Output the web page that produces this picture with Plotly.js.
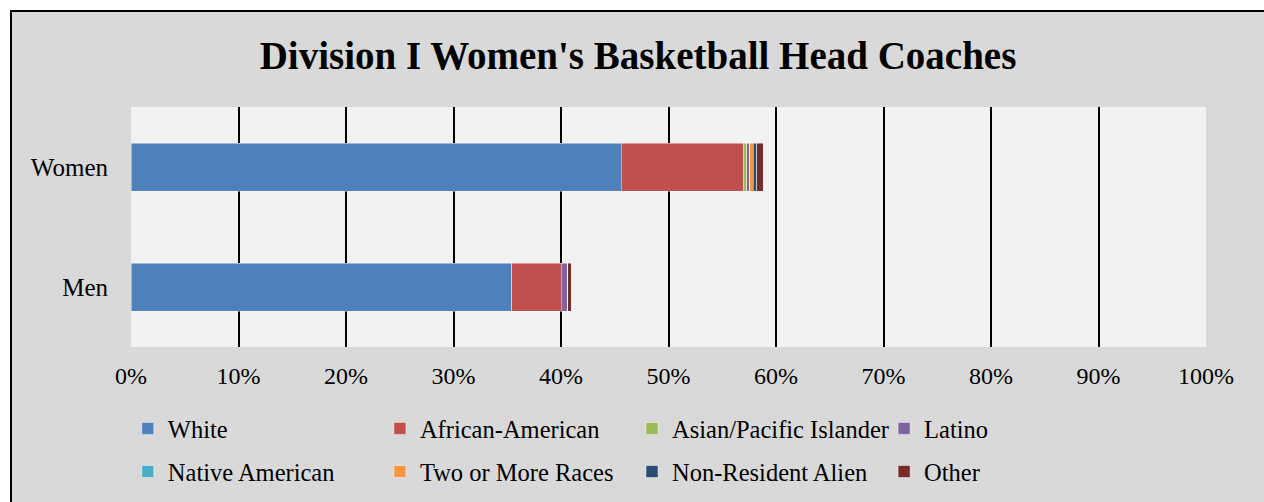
<!DOCTYPE html>
<html>
<head>
<meta charset="utf-8">
<script src="https://cdn.plot.ly/plotly-3.0.1.min.js"></script>
<style>
  html, body { margin: 0; padding: 0; background: #ffffff; overflow: hidden; }
  #frame { position: absolute; left: 10px; top: 10px; width: 1300px; height: 540px;
           border-left: 2px solid #000; border-top: 2px solid #000; background: #d9d9d9; }
  #chart { width: 1252px; height: 490px; }
</style>
</head>
<body>
<div id="frame"><div id="chart"></div></div>
<script>
// Categories (top to bottom)
const groups = ['Women', 'Men'];
// Series names and colours
const seriesNames = ['White', 'African-American', 'Asian/Pacific Islander', 'Latino',
                     'Native American', 'Two or More Races', 'Non-Resident Alien', 'Other'];
const seriesColors = ['#4f81bd', '#c0504d', '#9bbb59', '#8064a2',
                      '#4bacc6', '#f79646', '#2c4d75', '#772c2a'];
// Values in percent: [Women, Men]
const white          = [45.6, 35.4];
const africanAmerican = [11.4, 4.6];
const asianPacific   = [0.3, 0.0];
const latino         = [0.25, 0.65];
const nativeAmerican = [0.0, 0.0];
const twoOrMore      = [0.35, 0.0];
const nonResident    = [0.3, 0.0];
const other          = [0.6, 0.3];
const tickValues = [0, 10, 20, 30, 40, 50, 60, 70, 80, 90, 100];
const tickLabels = ['0%', '10%', '20%', '30%', '40%', '50%', '60%', '70%', '80%', '90%', '100%'];

const allSeries = [white, africanAmerican, asianPacific, latino, nativeAmerican, twoOrMore, nonResident, other];
const font = 'Liberation Serif, Times New Roman, serif';

const traces = allSeries.map((vals, i) => ({
  type: 'bar',
  orientation: 'h',
  name: seriesNames[i],
  legend: i < 4 ? 'legend' : 'legend2',
  y: groups,
  x: vals,
  marker: { color: seriesColors[i], line: { color: 'rgba(255,255,255,0.55)', width: 0.8 } },
  hoverinfo: 'name+x'
}));

const legendBase = {
  orientation: 'h',
  xref: 'container',
  x: 0.0925,
  xanchor: 'left',
  yref: 'container',
  yanchor: 'top',
  traceorder: 'normal',
  entrywidth: 207.1,
  entrywidthmode: 'pixels',
  itemwidth: 30,
  bgcolor: 'rgba(0,0,0,0)',
  font: { family: font, size: 24.5, color: '#000000' }
};

const layout = {
  width: 1252,
  height: 490,
  barmode: 'stack',
  bargap: 0.6,
  paper_bgcolor: '#d9d9d9',
  plot_bgcolor: '#f2f2f2',
  margin: { l: 119, r: 58, t: 95, b: 155 },
  title: {
    text: "Division I Women's Basketball Head Coaches",
    font: { family: font, size: 39, color: '#000000', weight: 'bold' },
    x: 0.5, xanchor: 'center', xref: 'container',
    y: 1, yref: 'container', yanchor: 'top', pad: { t: 30 }
  },
  xaxis: {
    range: [0, 100],
    tickvals: tickValues,
    ticktext: tickLabels,
    showgrid: true,
    gridcolor: '#000000',
    gridwidth: 2,
    zeroline: false,
    showline: false,
    ticks: '',
    ticklabelstandoff: 12,
    tickfont: { family: font, size: 24, color: '#000000' },
    fixedrange: true
  },
  yaxis: {
    type: 'category',
    autorange: 'reversed',
    showgrid: false,
    zeroline: false,
    ticks: '',
    ticklabelstandoff: 22,
    tickfont: { family: font, size: 25, color: '#000000' },
    fixedrange: true
  },
  legend: Object.assign({}, legendBase, { y: 0.196 }),
  legend2: Object.assign({}, legendBase, { y: 0.108 }),
  showlegend: true
};

Plotly.newPlot('chart', traces, layout, { displayModeBar: false, staticPlot: true });
</script>
</body>
</html>
